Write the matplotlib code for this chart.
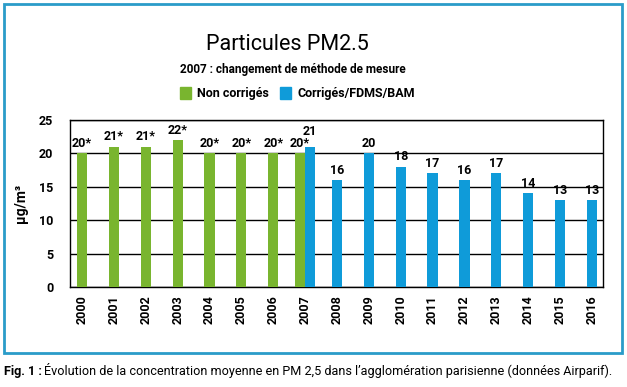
import matplotlib.pyplot as plt
from matplotlib.patches import Rectangle
import numpy as np

years = [str(y) for y in range(2000, 2017)]
non_corr_years = years[:8]
non_corr = [20, 21, 21, 22, 20, 20, 20, 20]
corr_years = years[7:]
corr = [21, 16, 20, 18, 17, 16, 17, 14, 13, 13]

green = '#79b52f'
blue = '#0f9bd9'
border = '#2a9cc9'
plt.rcParams['font.family'] = ['Roboto', 'DejaVu Sans']

fig = plt.figure(figsize=(6.27, 3.87), dpi=100)
ax = fig.add_axes([70/627, 1-287/387, 533/627, 167/387])

pos = {y: i for i, y in enumerate(years)}
w = 0.32
for y, v in zip(non_corr_years, non_corr):
    x = pos[y] - (w/2 if y in corr_years else 0)
    ax.bar(x, v, w, color=green, zorder=3)
    ax.text(x, v + 0.5, '%d*' % v, ha='center', va='bottom',
            fontsize=9, fontweight='bold', zorder=4)
for y, v in zip(corr_years, corr):
    x = pos[y] + (w/2 if y in non_corr_years else 0)
    ax.bar(x, v, w, color=blue, zorder=3)
    off = 1.3 if y in non_corr_years else 0.5
    ax.text(x, v + off, '%d' % v, ha='center', va='bottom',
            fontsize=9, fontweight='bold', zorder=4)

ax.set_xlim(-0.38, 16.35)
ax.set_ylim(0, 25)
ax.set_yticks(range(0, 26, 5))
ax.set_xticks(range(len(years)))
ax.set_xticklabels(years, rotation=90, fontweight='bold', fontsize=9)
for lab in ax.get_yticklabels():
    lab.set_fontweight('bold')
    lab.set_fontsize(9)
ax.tick_params(axis='y', length=0, pad=12)
ax.tick_params(axis='x', length=0, pad=6)
ax.grid(axis='y', color='black', lw=1, zorder=1)
for s in ax.spines.values():
    s.set_linewidth(1)
ax.set_ylabel('µg/m³', fontweight='bold', fontsize=10, labelpad=8)

fig.text(287/627, 1-45/387, 'Particules PM2.5', ha='center', va='center',
         fontsize=15.5)
fig.text(293/627, 1-70/387, '2007 : changement de méthode de mesure',
         ha='center', va='center', fontsize=8.5, fontweight='bold')
fig.patches.append(Rectangle((180/627, 1-99/387), 11/627, 12/387,
                             transform=fig.transFigure, color=green))
fig.text(197/627, 1-93/387, 'Non corrigés', va='center', fontsize=9,
         fontweight='bold')
fig.patches.append(Rectangle((280/627, 1-99/387), 11/627, 12/387,
                             transform=fig.transFigure, color=blue))
fig.text(298/627, 1-93/387, 'Corrigés/FDMS/BAM', va='center', fontsize=9,
         fontweight='bold')

fig.patches.append(Rectangle((4/627, 1-353/387), 618/627, 349/387,
                             transform=fig.transFigure, fill=False,
                             edgecolor=border, lw=2))
cap1 = fig.text(4/627, 1-371/387, 'Fig. 1 :', va='center', fontsize=9.1,
                fontweight='bold')
fig.canvas.draw()
bb = cap1.get_window_extent().transformed(fig.transFigure.inverted())
fig.text(bb.x1 + 2/627, 1-371/387, "Évolution de la concentration moyenne "
         "en PM 2,5 dans l’agglomération parisienne (données Airparif).",
         va='center', fontsize=9.1)

fig.savefig('out.png', dpi=100)
